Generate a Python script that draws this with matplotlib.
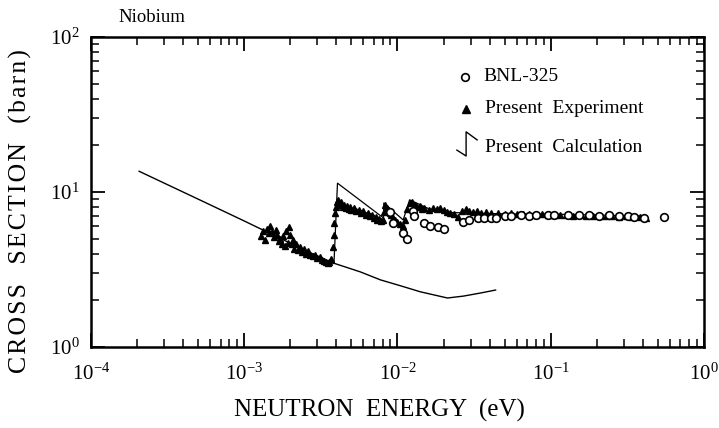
import numpy as np
import matplotlib
matplotlib.use("Agg")
import matplotlib.pyplot as plt

plt.rcParams['font.family'] = 'serif'
plt.rcParams['font.serif'] = ['Liberation Serif', 'DejaVu Serif']
plt.rcParams['mathtext.fontset'] = 'stix'

# calculation, smooth part (no Bragg edges)
calc_low_x = [2.06e-4, 5.15e-4, 1.0e-3, 2.32e-3, 3.65e-3, 5.73e-3, 7.74e-3,
              1.05e-2, 1.41e-2, 2.12e-2, 2.70e-2, 3.49e-2, 4.37e-2]
calc_low_y = [13.6, 8.87, 6.5, 4.35, 3.53, 3.05, 2.71,
              2.48, 2.27, 2.07, 2.13, 2.23, 2.33]

# calculation with Bragg edges
calc_x = [3.65e-3, 3.85e-3, 4.06e-3, 8.1e-3, 8.15e-3, 1.09e-2, 1.2e-2,
          1.6e-2, 2.0e-2, 3.0e-2, 6.0e-2, 0.1, 0.2, 0.4]
calc_y = [3.53, 3.45, 11.4, 6.8, 8.5, 6.6, 8.9,
          7.8, 7.4, 7.3, 7.2, 7.2, 7.1, 7.0]

# present experiment
exp_x = [1.28e-3, 1.32e-3, 1.36e-3, 1.40e-3, 1.44e-3, 1.48e-3, 1.52e-3, 1.56e-3,
         1.60e-3, 1.64e-3, 1.68e-3, 1.72e-3, 1.76e-3, 1.80e-3, 1.84e-3, 1.88e-3,
         1.92e-3, 1.96e-3, 2.00e-3, 2.04e-3, 2.08e-3, 2.12e-3, 2.18e-3, 2.24e-3,
         2.30e-3, 2.38e-3, 2.46e-3, 2.54e-3, 2.62e-3, 2.70e-3, 2.80e-3, 2.90e-3,
         3.00e-3, 3.10e-3, 3.20e-3, 3.30e-3, 3.40e-3, 3.50e-3, 3.60e-3, 3.70e-3,
         3.78e-3, 3.83e-3, 3.88e-3, 3.93e-3, 3.97e-3, 4.02e-3, 4.08e-3,
         4.2e-3, 4.3e-3, 4.4e-3, 4.5e-3, 4.6e-3, 4.7e-3, 4.8e-3, 4.9e-3, 5.0e-3,
         5.2e-3, 5.4e-3, 5.6e-3, 5.8e-3, 6.0e-3, 6.2e-3, 6.4e-3, 6.6e-3, 6.8e-3,
         7.0e-3, 7.2e-3, 7.4e-3, 7.6e-3, 7.8e-3, 8.0e-3,
         8.2e-3, 8.35e-3, 8.5e-3, 8.7e-3, 8.9e-3, 9.1e-3, 9.4e-3, 9.7e-3, 1.0e-2,
         1.04e-2, 1.08e-2, 1.12e-2, 1.16e-2, 1.2e-2, 1.25e-2, 1.3e-2, 1.35e-2,
         1.4e-2, 1.45e-2, 1.5e-2, 1.6e-2, 1.7e-2, 1.8e-2, 1.9e-2, 2.0e-2, 2.1e-2,
         2.2e-2, 2.35e-2, 2.5e-2, 2.65e-2, 2.8e-2, 2.95e-2, 3.1e-2, 3.3e-2, 3.5e-2,
         3.8e-2, 4.1e-2, 4.5e-2, 5.0e-2, 5.5e-2, 6.0e-2, 6.6e-2, 7.2e-2, 8.0e-2,
         8.8e-2, 9.6e-2, 0.105, 0.115, 0.125, 0.14, 0.155, 0.17, 0.19, 0.21,
         0.23, 0.25, 0.28, 0.31, 0.34, 0.38, 0.42]
exp_y = [5.2, 5.6, 4.9, 5.8, 5.4, 6.0, 5.5, 5.1,
         5.7, 5.3, 4.8, 5.0, 4.6, 5.2, 4.5, 5.6,
         4.7, 5.9, 5.3, 4.6, 4.9, 4.3, 4.6, 4.2,
         4.4, 4.1, 4.3, 4.0, 4.15, 3.9, 3.85, 3.95,
         3.75, 3.8, 3.65, 3.6, 3.55, 3.5, 3.55, 3.7,
         4.4, 5.3, 6.3, 7.3, 8.0, 8.6, 8.9,
         8.3, 8.6, 8.0, 8.3, 7.9, 8.1, 7.8, 8.0, 7.7,
         7.9, 7.5, 7.7, 7.3, 7.5, 7.1, 7.3, 7.0, 7.1,
         6.8, 6.9, 6.6, 6.7, 6.5, 6.6,
         7.4, 8.2, 7.9, 7.6, 7.3, 7.1, 6.8, 6.6, 6.4,
         6.2, 6.0, 6.6, 7.8, 8.5, 8.6, 8.2, 8.0,
         8.1, 7.8, 7.9, 7.65, 7.9, 7.8, 7.9, 7.6, 7.4,
         7.3, 7.2, 6.9, 7.5, 7.8, 7.5, 7.4, 7.5, 7.3,
         7.4, 7.3, 7.35, 7.25, 7.3, 7.2, 7.25, 7.2, 7.15,
         7.2, 7.1, 7.15, 7.1, 7.1, 7.05, 7.1, 7.0, 7.05, 7.0,
         6.95, 7.0, 6.9, 6.95, 6.85, 6.9, 6.8]

# BNL-325
bnl_x = [9.0e-3, 9.4e-3, 1.08e-2, 1.16e-2, 1.27e-2, 1.28e-2, 1.48e-2, 1.64e-2,
         1.83e-2, 2.0e-2, 2.66e-2, 2.91e-2, 3.33e-2, 3.65e-2, 4.05e-2, 4.37e-2,
         5.0e-2, 5.48e-2, 6.37e-2, 7.2e-2, 8.0e-2, 9.55e-2, 0.105, 0.129, 0.152,
         0.177, 0.206, 0.239, 0.278, 0.318, 0.348, 0.405, 0.548]
bnl_y = [7.4, 6.3, 5.4, 5.0, 7.5, 7.0, 6.3, 6.0,
         5.9, 5.8, 6.4, 6.6, 6.8, 6.8, 6.8, 6.8,
         7.0, 7.0, 7.1, 7.0, 7.1, 7.1, 7.1, 7.1, 7.1,
         7.1, 7.0, 7.1, 6.95, 6.95, 6.9, 6.8, 6.9]


def spaced(s, sep='\u200a'):
    # wide letter spacing like the old typeset figure
    return sep.join(s)


fig = plt.figure(figsize=(7.19, 4.28), dpi=100)
ax = fig.add_axes([0.1266, 0.1893, 0.8524, 0.7243])

ax.plot(calc_low_x, calc_low_y, color='black', lw=1.0)
ax.plot(calc_x, calc_y, color='black', lw=0.9)
ax.plot(exp_x, exp_y, linestyle='none', marker='^', ms=4, color='black')
ax.plot(bnl_x, bnl_y, linestyle='none', marker='o', ms=5.5, mfc='white',
        mec='black', mew=1.2)

ax.set_xscale('log')
ax.set_yscale('log')
ax.set_xlim(1e-4, 1)
ax.set_ylim(1, 100)

for s in ax.spines.values():
    s.set_linewidth(1.8)
ax.tick_params(which='major', direction='in', length=10, width=1.3,
               top=True, right=True, labelsize=15)
ax.tick_params(which='minor', direction='in', length=5.5, width=1.1,
               top=True, right=True)
ax.tick_params(axis='x', which='major', pad=12)
ax.tick_params(axis='y', which='major', pad=8)

# legend drawn by hand
ax.plot([0.610], [0.871], transform=ax.transAxes, marker='o', ms=5.5,
        mfc='white', mec='black', mew=1.2, clip_on=False)
ax.text(0.640, 0.871, 'BNL-325', transform=ax.transAxes, fontsize=14,
        va='center', ha='left')
ax.plot([0.612], [0.768], transform=ax.transAxes, marker='^', ms=5.5,
        color='black', clip_on=False)
ax.text(0.643, 0.768, 'Present  Experiment', transform=ax.transAxes,
        fontsize=14, va='center', ha='left')
ax.plot([0.597, 0.612, 0.612, 0.630], [0.635, 0.616, 0.694, 0.668],
        transform=ax.transAxes, color='black', lw=1.0, clip_on=False)
ax.text(0.643, 0.645, 'Present  Calculation', transform=ax.transAxes,
        fontsize=14, va='center', ha='left')

fig.text(118 / 719, 1 - 17 / 428, 'Niobium', fontsize=13.5, va='center', ha='left')
fig.text(20 / 719, 0.507, spaced('CROSS  SECTION  (barn)'), rotation=90,
         fontsize=18.5, va='center', ha='center')
fig.text(0.528, 0.042, 'NEUTRON  ENERGY  (eV)', fontsize=18,
         va='center', ha='center')

fig.savefig('out.png', dpi=100)
